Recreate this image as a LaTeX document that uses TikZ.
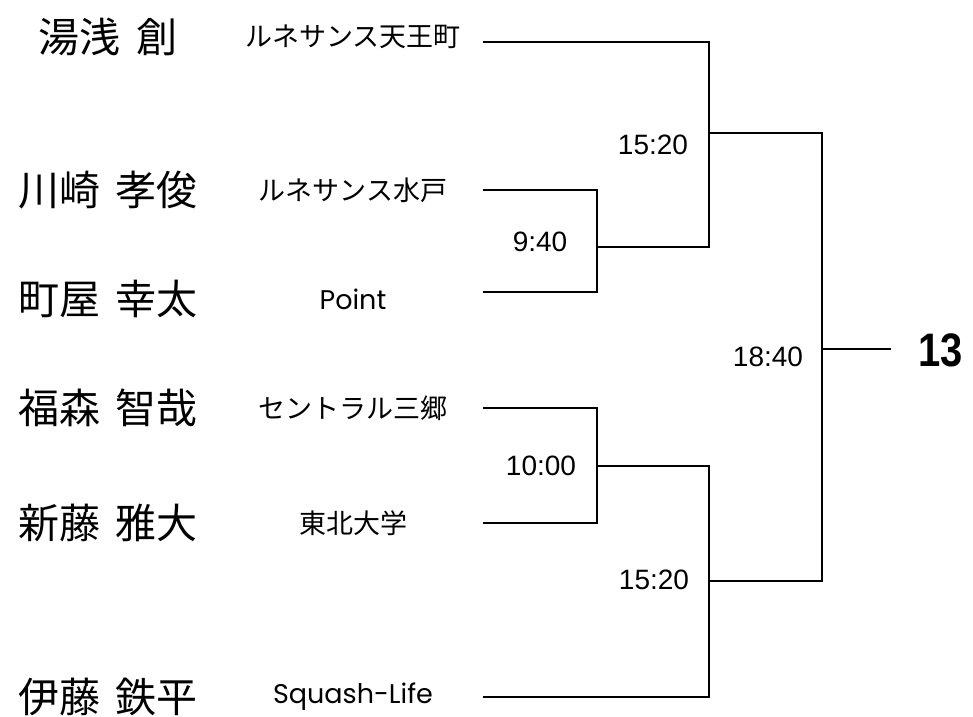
\documentclass[tikz,border=0pt]{standalone}
\usepackage{fontspec}
\setmainfont{Noto Sans CJK JP}
\newfontfamily\latinfont{Poppins}
\newfontfamily\numfont{Liberation Sans}
\newfontfamily\winfont[FakeStretch=0.85]{Liberation Sans}
\begin{document}
\begin{tikzpicture}[x=1pt, y=-1pt, line width=2.5pt,
        player/.style={font=\fontsize{41}{41}\selectfont},
        club/.style={font=\fontsize{27}{27}\selectfont},
        time/.style={font=\numfont\fontsize{28}{28}\selectfont}]
        \useasboundingbox (0,0) rectangle (973,716);
        \foreach \i/\y/\ty/\name/\team in {1/42/37/湯浅\hspace{6pt} 創/ルネサンス天王町,
                2/190/190/川崎\hspace{6pt} 孝俊/ルネサンス水戸,
                3/292/299/町屋\hspace{6pt} 幸太/{\latinfont Point},
                4/408/408/福森\hspace{6pt} 智哉/セントラル三郷,
                5/523/523/新藤\hspace{6pt} 雅大/東北大学,
                6/697/697/伊藤\hspace{6pt} 鉄平/{\latinfont Squash-Life}}{
            \node [player] (name\i) at (108, \ty) {\name};
            \node [club] (club\i) at (353, \ty) {\team};
            \coordinate (end\i) at (483, \y);
        }
        \coordinate (j1) at (597, 247);
        \coordinate (j2) at (709, 133);
        \coordinate (j3) at (597, 466);
        \coordinate (j4) at (709, 581);
        \coordinate (j5) at (822, 349);
        \draw (end2) -| (j1) |- (end3);
        \draw (end1) -| (j2) |- (j1);
        \draw (end4) -| (j3) |- (end5);
        \draw (j3) -| (j4) |- (end6);
        \draw (j2) -| (j5) |- (j4);
        \node [inner xsep=26pt, inner ysep=0pt, anchor=west, font=\winfont\bfseries\fontsize{47}{47}\selectfont] (win) at (891, 350) {13};
        \draw (j5) -- (j5 -| win.west);
        \node [time] (t1) at (540, 242) {9:40};
        \node [time] (t2) at (653, 145) {15:20};
        \node [time] (t3) at (541, 466) {10:00};
        \node [time] (t4) at (654, 580) {15:20};
        \node [time] (t5) at (768, 357) {18:40};
\end{tikzpicture}
\end{document}
